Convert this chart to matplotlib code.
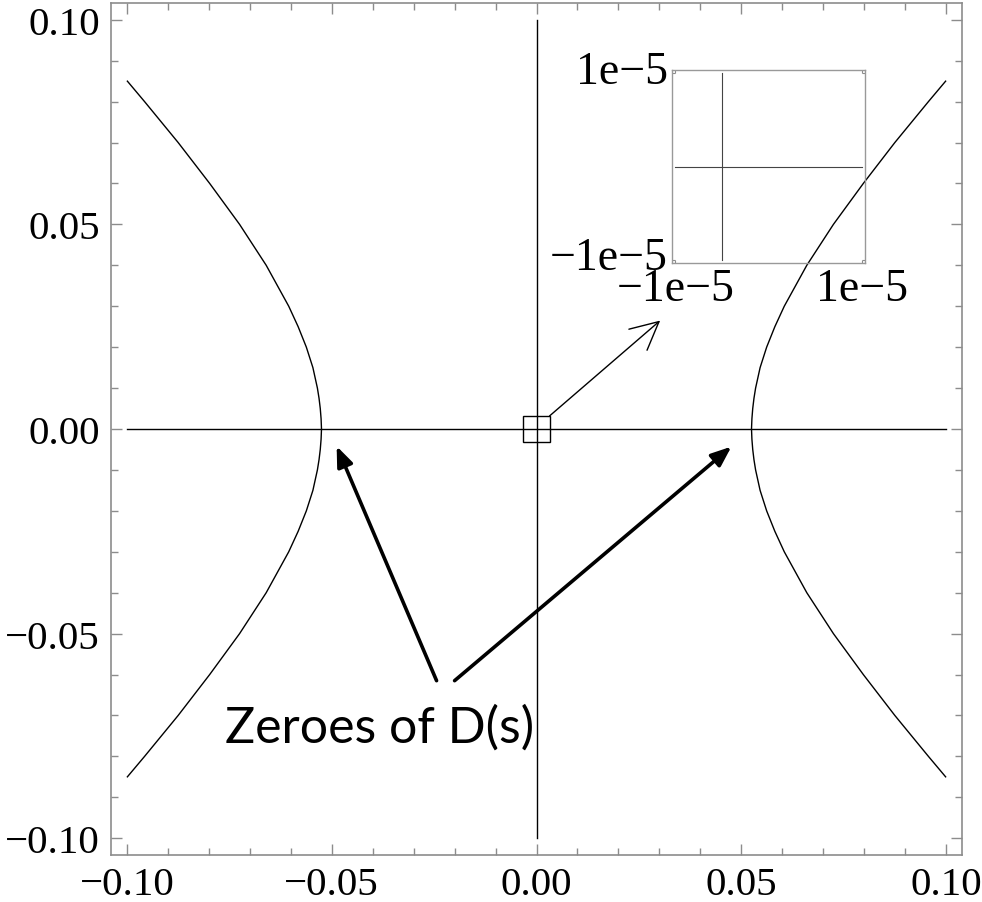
import numpy as np
import matplotlib
matplotlib.use("Agg")
import matplotlib.pyplot as plt
import matplotlib.transforms as mtransforms
from matplotlib.patches import Rectangle

# main ticks
major_ticks = [-0.10, -0.05, 0.00, 0.05, 0.10]
major_labels = ["\u22120.10", "\u22120.05", "0.00", "0.05", "0.10"]
minor_ticks = [-0.09, -0.08, -0.07, -0.06, -0.04, -0.03, -0.02, -0.01,
               0.01, 0.02, 0.03, 0.04, 0.06, 0.07, 0.08, 0.09]

# upper half of the right branch of the zero curve
branch_y = [0.0, 0.0025, 0.005, 0.0075, 0.01, 0.015, 0.02, 0.025, 0.03,
            0.04, 0.05, 0.06, 0.07, 0.08, 0.085]
branch_x = [0.0525, 0.0526, 0.0528, 0.0531, 0.0535, 0.0546, 0.0562, 0.0582,
            0.0605, 0.0660, 0.0725, 0.0798, 0.0875, 0.0957, 0.0999]

# the two straight zero lines along the axes
axis_extent = [-0.10, 0.10]

# zoom box at the origin and the inset contents
box_half = 0.0032
zoom_arrow_from = (0.0032, 0.0032)
zoom_arrow_to = (0.0302, 0.0265)
inset_ticks = [-1e-5, 1e-5]
inset_labels = ["\u22121e\u22125", "1e\u22125"]
inset_vline_x = -0.5e-5
inset_hline_y = 0.0

# "Zeroes of D(s)" arrows: tail -> tip
label_pos = (-0.0383, -0.0763)
zero_arrows = [((-0.0244, -0.0615), (-0.0488, -0.0042)),
               ((-0.0200, -0.0615), (0.0476, -0.0043))]

frame_grey = "#8c8c8c"

fig = plt.figure(figsize=(9.82, 9.03), dpi=100)
ax = fig.add_axes([111/982, 47/903, 851/982, 852/903])

by = np.array(branch_y)
bx = np.array(branch_x)
yy = np.concatenate([-by[::-1], by[1:]])
xx = np.concatenate([bx[::-1], bx[1:]])
for s in (-1, 1):
    ax.plot(s * xx, yy, color="black", lw=1.0, zorder=5)

ax.plot(axis_extent, [0, 0], color="black", lw=1.0)
ax.plot([0, 0], axis_extent, color="black", lw=1.0)

ax.add_patch(Rectangle((-box_half, -box_half), 2*box_half, 2*box_half,
                       fill=False, ec="black", lw=1.0))
ax.annotate("", xy=zoom_arrow_to, xytext=zoom_arrow_from,
            arrowprops=dict(arrowstyle="->", lw=1.0, color="black",
                            mutation_scale=50, shrinkA=0, shrinkB=0))

for tail, tip in zero_arrows:
    ax.annotate("", xy=tip, xytext=tail,
                arrowprops=dict(arrowstyle="-|>,head_length=0.55,head_width=0.22",
                                lw=2.6, color="black", mutation_scale=22,
                                shrinkA=0, shrinkB=0))
ax.text(label_pos[0], label_pos[1], "Zeroes of D(s)", fontsize=36,
        family="Lato", ha="center", va="baseline")

ax.set_xlim(-0.1039, 0.1039)
ax.set_ylim(-0.1041, 0.1041)
ax.set_xticks(major_ticks)
ax.set_xticklabels(major_labels)
ax.set_yticks(major_ticks)
ax.set_yticklabels(major_labels)
ax.set_xticks(minor_ticks, minor=True)
ax.set_yticks(minor_ticks, minor=True)
ax.tick_params(which="both", direction="in", top=True, right=True,
               color=frame_grey, width=1.0)
ax.tick_params(which="major", length=8, pad=8, labelsize=29.5)
ax.tick_params(which="minor", length=5)
for lab in ax.get_xticklabels() + ax.get_yticklabels():
    lab.set_family("Liberation Serif")
for sp in ax.spines.values():
    sp.set_color(frame_grey)
    sp.set_linewidth(1.2)

# inset, transparent so the curve shows through it
ins = fig.add_axes([672/982, (903-264)/903, 193/982, 193/903])
ins.patch.set_alpha(0)
ins.plot(inset_ticks, [inset_hline_y, inset_hline_y], color="#444444", lw=0.8)
ins.plot([inset_vline_x, inset_vline_x], inset_ticks, color="#444444", lw=0.8)
ins.set_xlim(-1.0375e-5, 1.0375e-5)
ins.set_ylim(-1.0375e-5, 1.0375e-5)
ins.set_xticks(inset_ticks)
ins.set_xticklabels(inset_labels)
ins.set_yticks(inset_ticks)
ins.set_yticklabels(inset_labels)
ins.tick_params(direction="in", length=2, color=frame_grey, pad=3,
                labelsize=33, top=True, right=True)
shift_up = mtransforms.ScaledTranslation(0, 5/72, fig.dpi_scale_trans)
for lab in ins.get_yticklabels():
    lab.set_transform(lab.get_transform() + shift_up)
for lab in ins.get_xticklabels() + ins.get_yticklabels():
    lab.set_family("Liberation Serif")
for sp in ins.spines.values():
    sp.set_color("#999999")
    sp.set_linewidth(1.0)

fig.savefig("out.png", dpi=100)
